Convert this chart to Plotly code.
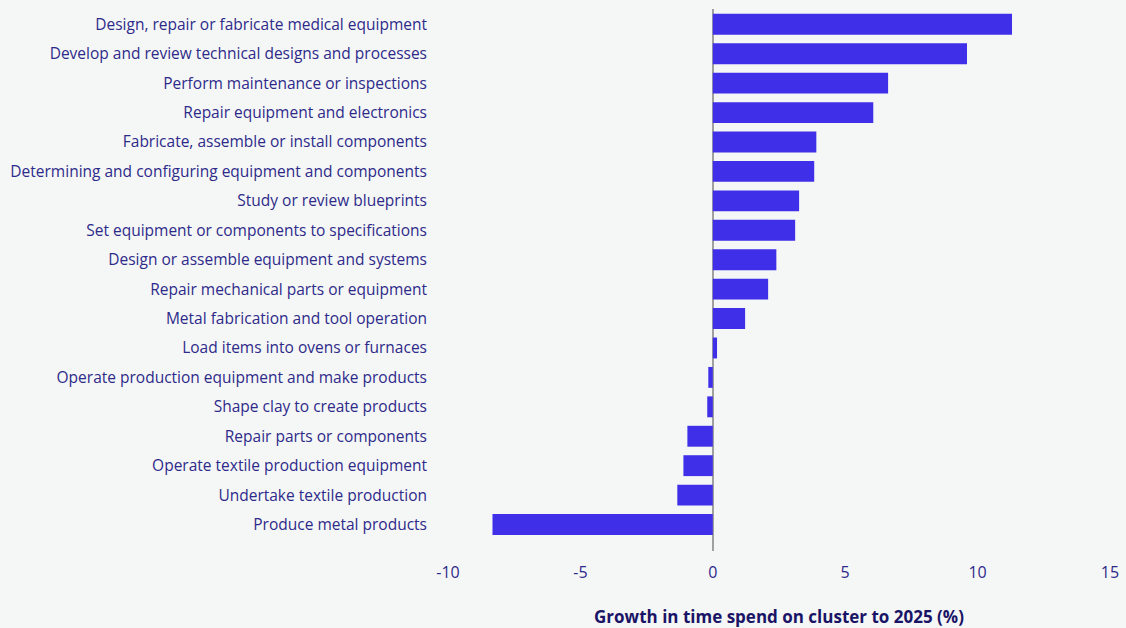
import plotly.graph_objects as go

categories = [
    "Design, repair or fabricate medical equipment",
    "Develop and review technical designs and processes",
    "Perform maintenance or inspections",
    "Repair equipment and electronics",
    "Fabricate, assemble or install components",
    "Determining and configuring equipment and components",
    "Study or review blueprints",
    "Set equipment or components to specifications",
    "Design or assemble equipment and systems",
    "Repair mechanical parts or equipment",
    "Metal fabrication and tool operation",
    "Load items into ovens or furnaces",
    "Operate production equipment and make products",
    "Shape clay to create products",
    "Repair parts or components",
    "Operate textile production equipment",
    "Undertake textile production",
    "Produce metal products",
]
growth = [11.3, 9.6, 6.62, 6.06, 3.91, 3.83, 3.26, 3.11, 2.40, 2.09, 1.22, 0.16,
          -0.17, -0.21, -0.96, -1.11, -1.34, -8.32]
x_ticks = [-10, -5, 0, 5, 10, 15]
x_title = "Growth in time spend on cluster to 2025 (%)"

BAR = "#3f2fe8"
LABEL = "#2e2a8a"
TITLE = "#1a1466"
BG = "#f5f7f6"
FONT = "Open Sans"

fig = go.Figure(go.Bar(
    x=growth, y=categories, orientation="h",
    marker=dict(color=BAR, line=dict(width=0)),
    width=0.71,
))

fig.update_layout(
    width=1126, height=628,
    paper_bgcolor=BG, plot_bgcolor=BG,
    margin=dict(l=447.5, r=15.5, t=9, b=77),
    showlegend=False,
    font=dict(family=FONT, color=LABEL),
)
fig.update_xaxes(
    range=[-10, 15], tickvals=x_ticks, ticktext=[str(v) for v in x_ticks],
    showgrid=False, zeroline=True, zerolinecolor="#a0a0a0", zerolinewidth=1.5,
    showline=False, ticks="", tickfont=dict(size=16, color=LABEL, family=FONT),
    ticklabelstandoff=10, automargin=False,
    title=dict(text="<b>" + x_title + "</b>", font=dict(size=17, color=TITLE, family=FONT), standoff=33),
)
fig.update_yaxes(
    type="category", categoryorder="array", categoryarray=categories,
    range=[17.9, -0.52], showgrid=False, zeroline=False, showline=False, ticks="",
    tickfont=dict(size=15.5, color=LABEL, family=FONT), ticklabelstandoff=20,
    automargin=False,
)

fig.write_html(
    "out.html",
    config={"displayModeBar": False},
    post_script="document.body.style.margin='0';document.body.style.background='#f5f7f6';document.body.style.overflow='hidden';",
)
